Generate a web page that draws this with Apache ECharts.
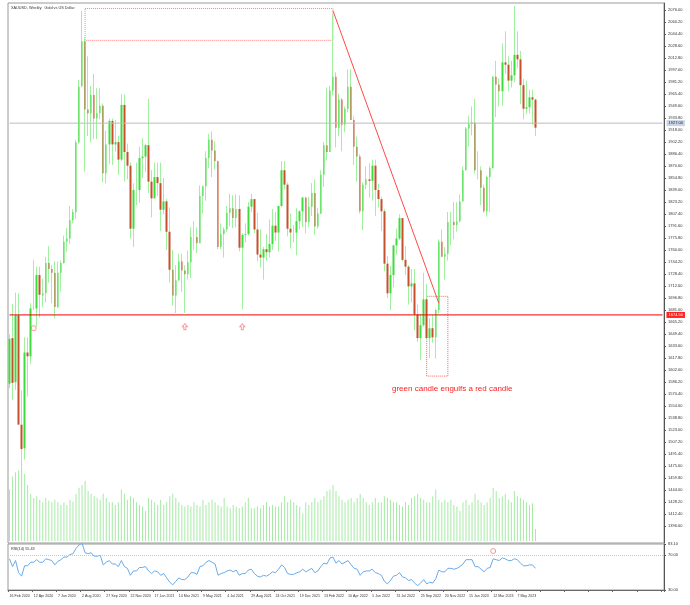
<!DOCTYPE html>
<html><head><meta charset="utf-8">
<script src="https://cdn.jsdelivr.net/npm/echarts@6/dist/echarts.min.js"></script>
<style>html,body{margin:0;padding:0;background:#fff}#c{width:690px;height:605px}</style>
</head><body><div id="c"></div>
<script>
// ---- categories (weekly bars, Sunday dated) ----
const w2020 = ['16 Feb','23 Feb','1 Mar','8 Mar','15 Mar','22 Mar','29 Mar','5 Apr','12 Apr','19 Apr','26 Apr','3 May','10 May','17 May','24 May','31 May','7 Jun','14 Jun','21 Jun','28 Jun','5 Jul','12 Jul','19 Jul','26 Jul','2 Aug','9 Aug','16 Aug','23 Aug','30 Aug','6 Sep','13 Sep','20 Sep','27 Sep','4 Oct','11 Oct','18 Oct','25 Oct','1 Nov','8 Nov','15 Nov','22 Nov','29 Nov','6 Dec','13 Dec','20 Dec','27 Dec'];
const w2021 = ['3 Jan','10 Jan','17 Jan','24 Jan','31 Jan','7 Feb','14 Feb','21 Feb','28 Feb','7 Mar','14 Mar','21 Mar','28 Mar','4 Apr','11 Apr','18 Apr','25 Apr','2 May','9 May','16 May','23 May','30 May','6 Jun','13 Jun','20 Jun','27 Jun','4 Jul','11 Jul','18 Jul','25 Jul','1 Aug','8 Aug','15 Aug','22 Aug','29 Aug','5 Sep','12 Sep','19 Sep','26 Sep','3 Oct','10 Oct','17 Oct','24 Oct','31 Oct','7 Nov','14 Nov','21 Nov','28 Nov','5 Dec','12 Dec','19 Dec','26 Dec'];
const w2022 = ['2 Jan','9 Jan','16 Jan','23 Jan','30 Jan','6 Feb','13 Feb','20 Feb','27 Feb','6 Mar','13 Mar','20 Mar','27 Mar','3 Apr','10 Apr','17 Apr','24 Apr','1 May','8 May','15 May','22 May','29 May','5 Jun','12 Jun','19 Jun','26 Jun','3 Jul','10 Jul','17 Jul','24 Jul','31 Jul','7 Aug','14 Aug','21 Aug','28 Aug','4 Sep','11 Sep','18 Sep','25 Sep','2 Oct','9 Oct','16 Oct','23 Oct','30 Oct','6 Nov','13 Nov','20 Nov','27 Nov','4 Dec','11 Dec','18 Dec','25 Dec'];
const w2023 = ['1 Jan','8 Jan','15 Jan','22 Jan','29 Jan','5 Feb','12 Feb','19 Feb','26 Feb','5 Mar','12 Mar','19 Mar','26 Mar','2 Apr','9 Apr','16 Apr','23 Apr','30 Apr','7 May','14 May','21 May','28 May','4 Jun','11 Jun','18 Jun'];

// ---- series values ----
const open = [
1584,1644,1586,1674,1530,1499,1625,1620,1683,1683,1727,1700,1703,1743,1735,1730,1685,1730,1743,1771,1775,1799,1810,1902,1976,2035,1945,1940,1964,1933,1940,1950,1861,1899,1930,1899,1902,1879,1951,1889,1871,1788,1839,1839,1881,1883,
1898,1850,1828,1856,1848,1813,1824,1784,1734,1700,1720,1745,1733,1728,1744,1777,1777,1769,1831,1844,1881,1905,1891,1877,1764,1781,1787,1809,1815,1802,1814,1763,1780,1781,1817,1827,1787,1754,1750,1761,1757,1768,1792,1783,1818,1865,1846,1788,1783,1783,1798,1811,
1829,1797,1817,1835,1791,1808,1859,1898,1889,1970,1988,1921,1958,1925,1946,1975,1931,1896,1883,1811,1846,1853,1851,1871,1839,1827,1811,1742,1703,1727,1766,1775,1802,1747,1738,1712,1716,1675,1644,1661,1695,1644,1657,1645,1681,1771,1751,1755,1797,1797,1793,1798,
1824,1865,1920,1926,1928,1865,1865,1842,1811,1856,1868,1988,1978,1969,2007,2004,1983,1990,2017,2011,1977,1946,1948,1961,1958];
const high = [
1649,1689,1704,1703,1575,1645,1645,1690,1747,1738,1738,1722,1751,1765,1740,1745,1745,1746,1779,1789,1818,1814,1905,1984,2075,2039,2015,1976,1992,1973,1973,1953,1917,1933,1933,1931,1910,1965,1965,1900,1875,1848,1875,1896,1907,1900,
1959,1865,1875,1875,1875,1855,1827,1816,1760,1740,1755,1755,1740,1759,1790,1798,1790,1845,1845,1890,1913,1916,1903,1878,1795,1790,1818,1834,1832,1833,1832,1782,1795,1823,1834,1827,1809,1787,1764,1781,1800,1814,1810,1818,1877,1877,1849,1808,1793,1815,1812,1830,
1830,1830,1848,1853,1815,1865,1902,1974,1976,2070,1994,1966,1960,1949,1998,1998,1936,1909,1886,1849,1870,1874,1879,1879,1847,1830,1814,1752,1739,1767,1788,1807,1802,1765,1740,1735,1735,1688,1676,1730,1715,1670,1675,1683,1774,1787,1764,1810,1810,1823,1823,1833,
1870,1922,1937,1949,1959,1890,1870,1846,1858,1870,1989,2009,1986,2032,2048,2015,2009,2081,2048,2022,1985,1983,1971,1971,1959];
const low = [
1578,1563,1576,1555,1451,1484,1567,1610,1681,1659,1671,1685,1691,1717,1690,1670,1683,1705,1742,1757,1768,1795,1801,1900,1974,1863,1910,1902,1906,1906,1932,1849,1848,1873,1872,1890,1859,1877,1850,1853,1775,1764,1819,1822,1855,1863,
1835,1803,1828,1831,1785,1807,1760,1717,1687,1677,1719,1705,1677,1721,1723,1760,1756,1769,1808,1825,1868,1856,1866,1761,1761,1750,1784,1791,1789,1790,1758,1682,1770,1779,1810,1782,1745,1737,1721,1746,1750,1760,1772,1758,1816,1840,1778,1762,1770,1753,1787,1790,
1782,1790,1805,1780,1788,1807,1843,1878,1889,1964,1895,1910,1890,1915,1941,1931,1872,1850,1808,1786,1840,1829,1825,1805,1816,1785,1732,1697,1681,1711,1754,1773,1745,1727,1688,1691,1654,1639,1615,1659,1641,1618,1638,1617,1676,1751,1721,1746,1766,1774,1784,1796,
1824,1865,1896,1911,1861,1853,1819,1809,1804,1810,1867,1935,1949,1950,1992,1969,1974,1981,2000,1952,1932,1939,1940,1925,1910];
const close = [
1643,1585,1674,1530,1498,1625,1620,1683,1683,1727,1701,1703,1743,1735,1730,1685,1730,1743,1771,1775,1799,1810,1902,1975,2035,1945,1940,1964,1933,1940,1950,1861,1899,1930,1899,1902,1879,1951,1889,1871,1788,1839,1839,1881,1883,1898,
1850,1828,1856,1848,1813,1824,1784,1734,1700,1720,1745,1733,1728,1744,1777,1777,1769,1831,1844,1881,1905,1891,1877,1764,1781,1787,1809,1815,1802,1814,1763,1780,1781,1817,1827,1787,1754,1750,1761,1757,1768,1792,1783,1818,1865,1846,1788,1783,1783,1798,1811,1829,
1797,1817,1835,1791,1808,1859,1898,1889,1970,1988,1921,1958,1925,1946,1975,1931,1896,1883,1811,1846,1853,1851,1871,1839,1827,1811,1742,1703,1727,1766,1775,1802,1747,1738,1712,1716,1675,1644,1661,1695,1644,1657,1645,1681,1771,1751,1755,1797,1797,1793,1798,1824,
1865,1920,1926,1928,1865,1865,1842,1811,1856,1868,1988,1978,1969,2007,2004,1983,1990,2017,2011,1977,1946,1948,1961,1958,1921];
const volume = [
60,75,80,82,85,78,65,55,50,52,48,45,50,47,45,48,45,42,45,42,48,46,55,62,65,70,58,55,52,50,48,55,50,45,45,42,45,60,55,48,52,50,45,42,40,35,
50,48,45,42,48,42,45,52,55,50,45,42,40,42,40,45,42,40,48,42,45,48,45,42,40,50,40,38,42,40,38,40,45,50,38,38,40,38,42,45,40,42,40,40,45,52,45,48,45,42,40,32,
45,42,45,50,45,48,52,58,60,65,58,52,48,45,48,50,45,50,55,50,45,42,45,50,45,45,52,50,48,45,45,42,40,45,42,50,52,55,50,48,45,45,52,60,48,45,48,45,48,42,40,35,
45,48,42,45,55,48,45,42,45,50,62,58,50,52,55,48,45,58,52,50,48,45,42,44,14];
const rsi = [
66,57,64,50,46,58,58,62,62,65,62,62,66,65,64,59,63,65,68,68,71,72,78,82,84,73,72,73,69,69,70,59,62,64,60,60,57,64,57,55,47,52,52,56,56,57,
52,49,52,51,47,49,44,39,36,40,44,42,42,45,50,50,48,57,58,62,64,62,60,47,49,50,52,53,51,53,47,49,49,53,54,49,46,45,47,46,48,51,50,54,59,56,49,48,48,50,51,54,
51,53,55,50,52,57,61,60,67,68,61,64,60,62,64,59,55,54,47,51,52,52,54,50,49,47,40,37,41,46,47,50,45,44,41,42,38,35,38,42,37,39,38,43,53,51,51,55,55,54,55,57,
60,65,65,65,57,57,54,51,55,56,66,65,64,67,66,64,64,66,65,61,58,58,59,59,55];
const priceTicks = [2076.00,2060.20,2044.40,2028.60,2012.80,1997.00,1981.20,1965.40,1949.60,1933.80,1918.00,1902.20,1886.40,1870.60,1854.80,1839.00,1823.20,1807.40,1791.60,1775.80,1760.00,1744.20,1728.40,1712.60,1696.80,1681.00,1665.20,1649.40,1633.60,1617.80,1602.00,1586.20,1570.40,1554.60,1538.80,1523.00,1507.20,1491.40,1475.60,1459.80,1444.00,1428.20,1412.40,1396.60];
const rsiTicks = [83.10, 70.00, 30.00];
const supportLevel = 1674.50;
const bidLevel = 1927.00;
const trendLine = [[107, 2075], [142, 1690]];
const rsiMin = 30, rsiMax = 83.1;

const weeks = [].concat(w2020.map(d=>d+' 2020'), w2021.map(d=>d+' 2021'), w2022.map(d=>d+' 2022'), w2023.map(d=>d+' 2023'));
const EMPTY_SLOTS = 42;
const cats = weeks.concat(new Array(EMPTY_SLOTS).fill(''));
const LAST = cats.length - 1;

const wickData = open.map((o,i)=>[o, close[i], low[i], high[i]]);
const bodyData = open.map((o,i)=>[o, close[i], Math.min(o,close[i]), Math.max(o,close[i])]);

const FONT = 'Liberation Sans';
const chart = echarts.init(document.getElementById('c'), null, {renderer:'canvas'});
const xBase = {type:'category', data:cats, boundaryGap:true, axisLine:{show:false}, axisTick:{show:false}, axisLabel:{show:false}, splitLine:{show:false}};
chart.setOption({
  animation:false,
  backgroundColor:'#ffffff',
  grid:[
    {left:8, right:26, top:3, height:540, show:true, borderColor:'#9a9a9a', borderWidth:1},
    {left:8, right:26, top:455, height:86, show:false},
    {left:8, right:26, top:544, height:46, show:true, borderColor:'#9a9a9a', borderWidth:1}
  ],
  xAxis:[
    Object.assign({gridIndex:0}, xBase),
    Object.assign({gridIndex:1}, xBase),
    Object.assign({}, xBase, {gridIndex:2,
      axisTick:{show:true, interval:7, length:2, lineStyle:{color:'#666'}},
      axisLine:{show:true, lineStyle:{color:'#666'}},
      axisLabel:{show:true, interval:7, fontSize:3.6, fontFamily:FONT, color:'#333', align:'left', margin:4, hideOverlap:false, showMinLabel:true}})
  ],
  yAxis:[
    {gridIndex:0, type:'value', position:'right', min:1374.2, max:2085.2, scale:true,
     axisLine:{show:true, lineStyle:{color:'#555'}}, splitLine:{show:false},
     axisTick:{show:true, length:2, customValues:priceTicks, lineStyle:{color:'#555'}},
     axisLabel:{fontSize:4, fontFamily:FONT, color:'#333', margin:4, customValues:priceTicks, formatter:v=>v.toFixed(2)}},
    {gridIndex:1, type:'value', min:0, max:100, show:false},
    {gridIndex:2, type:'value', position:'right', min:rsiMin, max:rsiMax,
     axisLine:{show:true, lineStyle:{color:'#555'}}, splitLine:{show:false},
     axisTick:{show:true, length:2, customValues:rsiTicks, lineStyle:{color:'#555'}},
     axisLabel:{fontSize:4, fontFamily:FONT, color:'#333', margin:4, customValues:rsiTicks, formatter:v=>v.toFixed(2)}}
  ],
  graphic:[
    {type:'text', left:11, top:6, style:{text:'XAUUSD, Weekly:  Gold vs US Dollar', fontSize:3.8, fontFamily:FONT, fill:'#333'}},
    {type:'text', left:11, top:547, style:{text:'RSI(14) 55.43', fontSize:3.8, fontFamily:FONT, fill:'#333'}},
    {type:'text', left:392, top:385, style:{text:'green candle engulfs a red candle', fontSize:8, fontFamily:'Liberation Sans', fill:'#ff2020'}}
  ],
  series:[
    {type:'bar', xAxisIndex:1, yAxisIndex:1, data:volume, barWidth:1, itemStyle:{color:'#a6eaa6'}, silent:true},
    {type:'line', xAxisIndex:0, yAxisIndex:0, data:[[0,bidLevel],[LAST,bidLevel]], symbol:'none', silent:true,
     lineStyle:{color:'#bdbdbd', width:1}, itemStyle:{color:'#bdbdbd'},
     endLabel:{show:true, formatter:()=>bidLevel.toFixed(2), fontSize:4, fontFamily:FONT, color:'#223', backgroundColor:'#c8d4ea', padding:[1,2], distance:4}},
    {type:'candlestick', xAxisIndex:0, yAxisIndex:0, data:wickData, barWidth:1,
     itemStyle:{color:'#9ff09f', color0:'#9ff09f', borderColor:'#9ff09f', borderColor0:'#9ff09f', borderWidth:1},
     markArea:{silent:true, data:[
       [{coord:[25, 2078], itemStyle:{color:'rgba(0,0,0,0)', borderColor:'#ff8080', borderWidth:1, borderType:'dotted'}}, {coord:[107, 2036]}],
       [{coord:[138, 1699], itemStyle:{color:'rgba(0,0,0,0)', borderColor:'#ff6060', borderWidth:1, borderType:'dotted'}}, {coord:[145, 1594]}]
     ]}
    },
    {type:'candlestick', xAxisIndex:0, yAxisIndex:0, data:bodyData, barWidth:2,
     itemStyle:{color:'#3cdc3c', color0:'#c4512b', borderColor:'#3cdc3c', borderColor0:'#c4512b', borderWidth:0}},
    {type:'line', xAxisIndex:0, yAxisIndex:0, data:[[0,supportLevel],[LAST,supportLevel]], symbol:'none', silent:true,
     lineStyle:{color:'#ee0000', width:1}, itemStyle:{color:'#ee0000'},
     endLabel:{show:true, formatter:()=>supportLevel.toFixed(2), fontSize:4, fontFamily:FONT, color:'#fff', backgroundColor:'#ff2020', padding:[1,2], distance:4}},
    {type:'line', xAxisIndex:0, yAxisIndex:0, data:trendLine, symbol:'none', silent:true, lineStyle:{color:'#ff4a4a', width:1}, itemStyle:{color:'#ff4a4a'}},
    {type:'scatter', xAxisIndex:0, yAxisIndex:0, silent:true,
     data:[[8,1657]], symbol:'circle', symbolSize:5, itemStyle:{color:'rgba(0,0,0,0)', borderColor:'#f08080', borderWidth:1}},
    {type:'scatter', xAxisIndex:0, yAxisIndex:0, silent:true,
     data:[[58,1659],[77,1659]], symbol:'path://M5,0 L10,5 L7,5 L7,10 L3,10 L3,5 L0,5 Z', symbolSize:[5,6],
     itemStyle:{color:'rgba(0,0,0,0)', borderColor:'#f08080', borderWidth:1}},
    {type:'line', xAxisIndex:2, yAxisIndex:2, data:rsi, symbol:'none', lineStyle:{color:'#6aaae8', width:1},
     markLine:{symbol:'none', silent:true, data:[{yAxis:70}], lineStyle:{color:'#c8c8c8', type:'dotted', width:1}, label:{show:false}}},
    {type:'scatter', xAxisIndex:2, yAxisIndex:2, silent:true, data:[[160,75]], symbol:'circle', symbolSize:5,
     itemStyle:{color:'rgba(0,0,0,0)', borderColor:'#f08080', borderWidth:1}}
  ]
});
</script>
</body></html>
